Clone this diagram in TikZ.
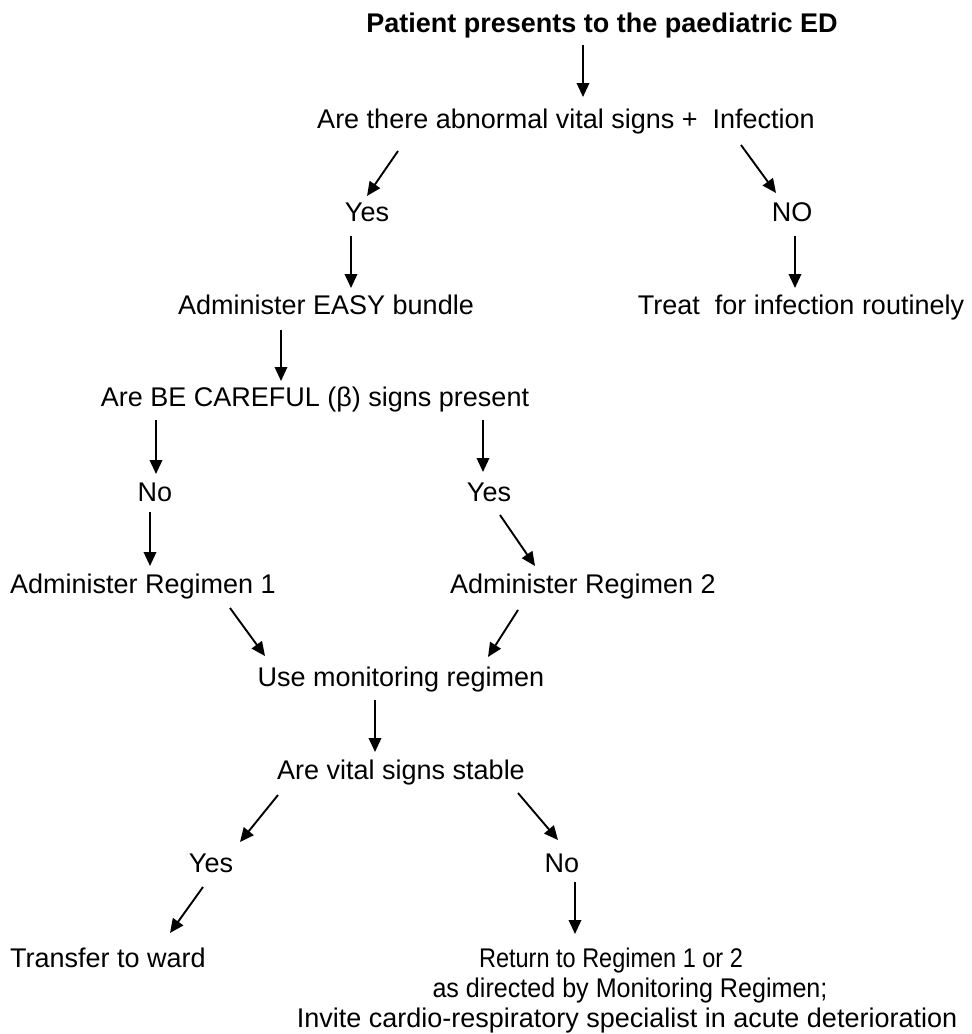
\documentclass[tikz,border=0pt]{standalone}
\usepackage{fontspec}
\usepackage{graphicx}
\setmainfont{Liberation Sans}
\usetikzlibrary{arrows.meta}
\begin{document}
\begin{tikzpicture}[x=1pt,y=-1pt,
  txt/.style={anchor=base,inner sep=0pt,font=\fontsize{27}{30}\selectfont},
  ttl/.style={txt,font=\fontsize{27}{30}\selectfont\bfseries},
  arr/.style={line width=1.9pt,-{Triangle[length=14pt,width=12.5pt]}}]
\useasboundingbox (0,0) rectangle (972,1034);
% nodes
\node[ttl] (title) at (602,32) {Patient presents to the paediatric ED};
\node[txt] (q1) at (566,128) {Are there abnormal vital signs +\ \ Infection};
\node[txt] (yes1) at (367,221) {Yes};
\node[txt] (no1) at (792,221) {NO};
\node[txt] (easy) at (326,314) {Administer EASY bundle};
\node[txt] (treat) at (801,314) {Treat\ \ for infection routinely};
\node[txt] (careful) at (315,406) {Are BE CAREFUL (β) signs present};
\node[txt] (no2) at (155,501) {No};
\node[txt] (yes2) at (489,501) {Yes};
\node[txt] (reg1) at (143,593) {Administer Regimen 1};
\node[txt] (reg2) at (583,593) {Administer Regimen 2};
\node[txt] (mon) at (401,686) {Use monitoring regimen};
\node[txt] (stable) at (401,779) {Are vital signs stable};
\node[txt] (yes3) at (211,872) {Yes};
\node[txt] (no3) at (562,872) {No};
\node[txt] (ward) at (108,967) {Transfer to ward};
\node[txt] (ret) at (611,967) {\scalebox{0.87}[1]{Return to Regimen 1 or 2}};
\node[txt] (ret2) at (630,997) {\scalebox{0.93}[1]{as directed by Monitoring Regimen;}};
\node[txt] (ret3) at (627,1027) {\scalebox{1.0}[1]{Invite cardio-respiratory specialist in acute deterioration}};
% connector end points
\coordinate (title-s) at (583,45);   \coordinate (q1-n) at (583,97);
\coordinate (q1-sw) at (398,151);    \coordinate (yes1-n) at (367,196);
\coordinate (q1-se) at (741,145);    \coordinate (no1-n) at (776,193);
\coordinate (yes1-s) at (351,236);   \coordinate (easy-n) at (351,288);
\coordinate (no1-s) at (795,236);    \coordinate (treat-n) at (795,288);
\coordinate (easy-s) at (281,330);   \coordinate (careful-n) at (281,381);
\coordinate (careful-sw) at (156,420); \coordinate (no2-n) at (156,474);
\coordinate (careful-se) at (483,420); \coordinate (yes2-n) at (483,472);
\coordinate (no2-s) at (150,512);    \coordinate (reg1-n) at (150,566);
\coordinate (yes2-s) at (500,515);   \coordinate (reg2-n) at (535,566);
\coordinate (reg1-s) at (230,608);   \coordinate (mon-nw) at (265,656);
\coordinate (reg2-s) at (518,610);   \coordinate (mon-ne) at (488,657);
\coordinate (mon-s) at (375,700);    \coordinate (stable-n) at (375,752);
\coordinate (stable-sw) at (278,795); \coordinate (yes3-n) at (240,842);
\coordinate (stable-se) at (518,793); \coordinate (no3-n) at (558,840);
\coordinate (yes3-s) at (203,887);   \coordinate (ward-n) at (170,933);
\coordinate (no3-s) at (575,882);    \coordinate (ret-n) at (575,934);
% connectors
\draw[arr] (title-s) -- (q1-n);
\draw[arr] (q1-sw) -- (yes1-n);
\draw[arr] (q1-se) -- (no1-n);
\draw[arr] (yes1-s) -- (easy-n);
\draw[arr] (no1-s) -- (treat-n);
\draw[arr] (easy-s) -- (careful-n);
\draw[arr] (careful-sw) -- (no2-n);
\draw[arr] (careful-se) -- (yes2-n);
\draw[arr] (no2-s) -- (reg1-n);
\draw[arr] (yes2-s) -- (reg2-n);
\draw[arr] (reg1-s) -- (mon-nw);
\draw[arr] (reg2-s) -- (mon-ne);
\draw[arr] (mon-s) -- (stable-n);
\draw[arr] (stable-sw) -- (yes3-n);
\draw[arr] (stable-se) -- (no3-n);
\draw[arr] (yes3-s) -- (ward-n);
\draw[arr] (no3-s) -- (ret-n);
\end{tikzpicture}
\end{document}
